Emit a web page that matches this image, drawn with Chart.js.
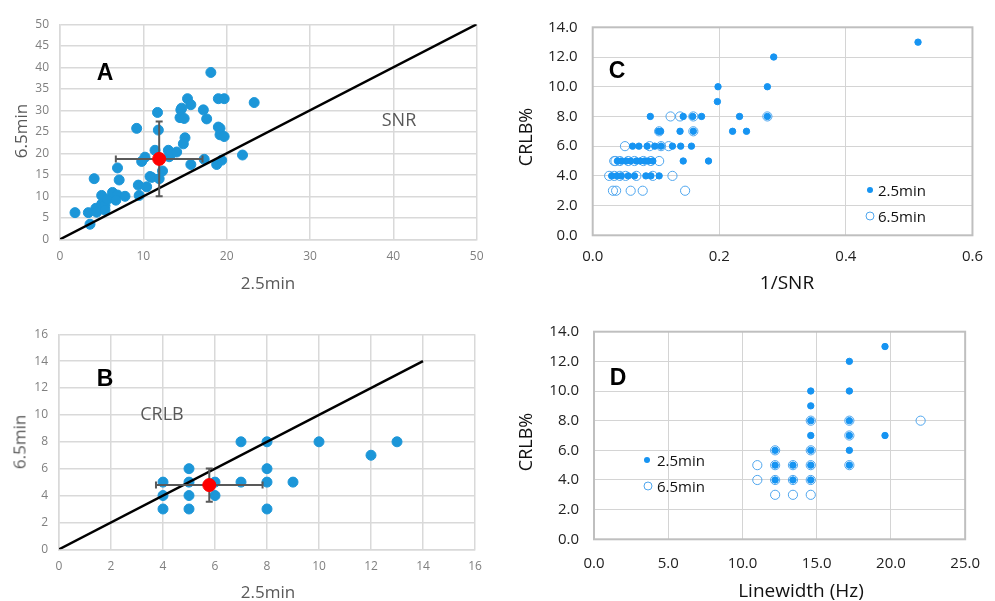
<!DOCTYPE html>
<html>
<head>
<meta charset="utf-8">
<script src="https://cdn.jsdelivr.net/npm/chart.js@4.4.1/dist/chart.umd.min.js"></script>
<style>
  body { margin: 0; background: #fff; width: 995px; height: 601px; position: relative; overflow: hidden; font-family: "Open Sans", sans-serif; }
  canvas { position: absolute; }
  .lbl { position: absolute; transform: translate(-50%, -50%); line-height: 1; white-space: nowrap; }
  .rot { transform: translate(-50%, -50%) rotate(-90deg); }
  .panel { font-family: "Liberation Sans", Arial, sans-serif; font-weight: bold; font-size: 23px; color: #000; }
  .gray { color: #595959; font-size: 17px; }
  .dark { color: #111; }
  .leg { position: absolute; font-size: 15px; color: #111; line-height: 1; transform: translateY(-50%); white-space: nowrap; }
  .dot { position: absolute; border-radius: 50%; transform: translate(-50%, -50%); box-sizing: border-box; }
</style>
</head>
<body>
<canvas id="chartA" width="497" height="300" style="left:0;top:0"></canvas>
<canvas id="chartB" width="497" height="301" style="left:0;top:300px"></canvas>
<canvas id="chartC" width="475" height="300" style="left:520px;top:0"></canvas>
<canvas id="chartD" width="475" height="301" style="left:520px;top:300px"></canvas>

<div class="lbl panel" style="left:105px;top:72px">A</div>
<div class="lbl gray" style="left:399px;top:119px;font-size:18px">SNR</div>
<div class="lbl gray" style="left:268px;top:282px">2.5min</div>
<div class="lbl gray rot" style="left:20px;top:131px">6.5min</div>

<div class="lbl panel" style="left:105px;top:378px">B</div>
<div class="lbl gray" style="left:162px;top:413px;font-size:18px">CRLB</div>
<div class="lbl gray" style="left:268px;top:591px">2.5min</div>
<div class="lbl gray rot" style="left:19px;top:442px">6.5min</div>

<div class="lbl panel" style="left:617px;top:70px">C</div>
<div class="lbl dark rot" style="left:525px;top:137px;font-size:18px">CRLB%</div>
<div class="lbl dark" style="left:787px;top:282px;font-size:19px">1/SNR</div>
<div class="dot" style="left:870px;top:190px;width:6px;height:6px;background:#1694F2"></div>
<div class="leg" style="left:878px;top:190px">2.5min</div>
<div class="dot" style="left:870px;top:216px;width:9px;height:9px;border:1px solid #4FA6EE"></div>
<div class="leg" style="left:878px;top:216px">6.5min</div>

<div class="lbl panel" style="left:618px;top:377px">D</div>
<div class="lbl dark rot" style="left:525px;top:442px;font-size:18px">CRLB%</div>
<div class="lbl dark" style="left:801px;top:590px;font-size:19px">Linewidth (Hz)</div>
<div class="dot" style="left:647px;top:460px;width:6px;height:6px;background:#1694F2"></div>
<div class="leg" style="left:657px;top:460px">2.5min</div>
<div class="dot" style="left:648px;top:486px;width:9px;height:9px;border:1px solid #4FA6EE"></div>
<div class="leg" style="left:657px;top:486px">6.5min</div>

<script>
// ---- Panel A: SNR, 2.5min vs 6.5min ----
const snrShort = [1.8, 3.4, 4.1, 4.3, 4.4, 3.6, 5.0, 5.0, 5.4, 5.4, 5.7, 6.3, 6.9, 6.7, 6.9, 7.1, 7.8, 9.2, 9.4, 9.5,
  9.8, 10.2, 10.4, 10.8, 11.0, 11.4, 11.7, 11.8, 11.9, 12.3, 13.0, 13.1, 13.3, 14.0, 14.5, 14.6, 14.4, 14.9, 15.0, 14.8,
  15.3, 15.7, 15.7, 17.2, 17.6, 17.3, 18.1, 18.8, 19.0, 19.7, 19.0, 19.2, 19.2, 19.7, 19.4, 21.9, 23.3];
const snrLong = [6.2, 6.2, 14.1, 7.2, 6.3, 3.5, 10.2, 8.2, 7.8, 6.8, 9.3, 10.9, 10.3, 9.1, 16.6, 13.8, 10.0, 25.8, 12.6, 10.2,
  18.1, 19.1, 12.2, 14.6, 14.4, 20.7, 29.5, 25.4, 14.1, 15.9, 20.7, 19.2, 19.8, 20.3, 30.1, 30.5, 28.3, 28.1, 23.6, 22.2,
  32.7, 31.3, 17.4, 30.1, 28.0, 18.6, 38.8, 17.4, 32.7, 32.7, 26.1, 25.8, 24.3, 23.9, 18.4, 19.6, 31.8];
const snrMean = [11.9, 18.7];
const snrSd = [5.2, 8.7];
const snrIdentity = [0, 50];

// ---- Panel B: CRLB, 2.5min vs 6.5min ----
const crlbShort = [4, 4, 4, 5, 5, 5, 5, 6, 6, 7, 7, 8, 8, 8, 8, 9, 10, 12, 13];
const crlbLong = [5, 4, 3, 6, 5, 4, 3, 5, 4, 8, 5, 8, 6, 5, 3, 5, 8, 7, 8];
const crlbMean = [5.78, 4.78];
const crlbSd = [2.05, 1.24];
const crlbIdentity = [0, 14];

// ---- Panel C: CRLB% vs 1/SNR ----
const invSnrShort = [0.198, 0.197, 0.091, 0.143, 0.158, 0.172, 0.232, 0.276, 0.286, 0.276, 0.514,
  0.104, 0.107, 0.138, 0.159, 0.221, 0.243,
  0.063, 0.073, 0.086, 0.098, 0.108, 0.126, 0.139, 0.156,
  0.039, 0.045, 0.053, 0.060, 0.069, 0.075, 0.082, 0.088, 0.095, 0.143, 0.183,
  0.030, 0.038, 0.045, 0.056, 0.066, 0.084, 0.092, 0.105];
const crlbPctShortC = [10, 9, 8, 8, 8, 8, 8, 8, 12, 10, 13,
  7, 7, 7, 7, 7, 7,
  6, 6, 6, 6, 6, 6, 6, 6,
  5, 5, 5, 5, 5, 5, 5, 5, 5, 5, 5,
  4, 4, 4, 4, 4, 4, 4, 4];
const invSnrLong = [0.123, 0.138, 0.159, 0.276, 0.159, 0.105,
  0.051, 0.090, 0.108, 0.120,
  0.034, 0.036, 0.043, 0.056, 0.066, 0.080, 0.092, 0.105,
  0.026, 0.034, 0.043, 0.052, 0.069, 0.095, 0.126,
  0.032, 0.037, 0.060, 0.079, 0.146];
const crlbPctLongC = [8, 8, 8, 8, 7, 7,
  6, 6, 6, 6,
  5, 5, 5, 5, 5, 5, 5, 5,
  4, 4, 4, 4, 4, 4, 4,
  3, 3, 3, 3, 3];

// ---- Panel D: CRLB% vs linewidth ----
const lwShort = [19.6, 19.6, 17.2, 17.2, 17.2, 17.2, 17.2, 17.2, 14.6, 14.6, 14.6, 14.6, 14.6, 14.6, 14.6,
  13.4, 13.4, 12.2, 12.2, 12.2];
const crlbPctShortD = [13, 7, 12, 10, 8, 7, 6, 5, 10, 9, 8, 7, 6, 5, 4, 5, 4, 6, 5, 4];
const lwLong = [22.0, 17.2, 17.2, 17.2, 14.6, 14.6, 14.6, 14.6, 14.6, 13.4, 13.4, 13.4, 12.2, 12.2, 12.2, 12.2, 11.0, 11.0];
const crlbPctLongD = [8, 8, 7, 5, 8, 6, 5, 4, 3, 5, 4, 3, 6, 5, 4, 3, 5, 4];

const pts = (xs, ys) => xs.map((x, i) => ({x: x, y: ys[i]}));

const frame = {
    id: 'frame',
    afterDraw(chart, args, opts) {
        if (!opts.color) return;
        const a = chart.chartArea, ctx = chart.ctx;
        ctx.save();
        ctx.strokeStyle = opts.color;
        ctx.lineWidth = opts.width;
        ctx.strokeRect(a.left, a.top, a.right - a.left, a.bottom - a.top);
        ctx.restore();
    }
};

// error bar datasets for the mean point (bars drawn as short lines, caps as line markers)
function errorBars(mean, sd) {
    const style = {type: 'line', borderColor: '#595959', borderWidth: 2, pointStyle: 'line',
        pointRadius: 3.5, pointBorderColor: '#595959', pointBorderWidth: 2, fill: false};
    return [
        Object.assign({}, style, {data: [{x: mean[0] - sd[0], y: mean[1]}, {x: mean[0] + sd[0], y: mean[1]}], pointRotation: 90}),
        Object.assign({}, style, {data: [{x: mean[0], y: mean[1] - sd[1]}, {x: mean[0], y: mean[1] + sd[1]}], pointRotation: 0})
    ];
}

// fixed plot box: left/top/right/bottom are the plot-area edges inside the canvas
function box(w, h, left, top, right, bottom) {
    return {
        layout: {padding: {top: top, right: w - right, left: 0, bottom: 0}},
        xFit: s => { s.height = h - bottom; },
        yFit: s => { s.width = left; }
    };
}

function excelChart(id, geom, datasets, xr, yr) {
    const tickFont = {family: 'Open Sans', size: 12};
    new Chart(document.getElementById(id), {
        type: 'scatter',
        data: {datasets: datasets},
        options: {
            responsive: false, animation: false, events: [],
            layout: geom.layout,
            plugins: {legend: {display: false}, tooltip: {enabled: false}},
            scales: {
                x: {type: 'linear', min: xr[0], max: xr[1], afterFit: geom.xFit,
                    grid: {color: '#d9d9d9', lineWidth: 1.5, drawTicks: false},
                    border: {color: '#d9d9d9', width: 1.5},
                    ticks: {stepSize: xr[2], color: '#7f7f7f', font: tickFont, padding: 10, maxRotation: 0}},
                y: {type: 'linear', min: yr[0], max: yr[1], afterFit: geom.yFit,
                    grid: {color: '#d9d9d9', lineWidth: 1.5, drawTicks: false},
                    border: {color: '#d9d9d9', width: 1.5},
                    ticks: {stepSize: yr[2], color: '#7f7f7f', font: tickFont, padding: 11}}
            }
        }
    });
}

function crlbChart(id, geom, datasets, xr) {
    const tickFont = {family: 'Open Sans', size: 15};
    new Chart(document.getElementById(id), {
        type: 'scatter',
        data: {datasets: datasets},
        options: {
            responsive: false, animation: false, events: [],
            layout: geom.layout,
            plugins: {legend: {display: false}, tooltip: {enabled: false}, frame: {color: '#bfbfbf', width: 2}},
            scales: {
                x: {type: 'linear', min: xr[0], max: xr[1], afterFit: geom.xFit,
                    grid: {color: '#d4d4d4', lineWidth: 1, drawTicks: false},
                    border: {display: false},
                    ticks: {stepSize: xr[2], color: '#222', font: tickFont, padding: xr[3], maxRotation: 0,
                        callback: v => v.toFixed(1)}},
                y: {type: 'linear', min: 0, max: 14, afterFit: geom.yFit,
                    grid: {color: '#d4d4d4', lineWidth: 1, drawTicks: false},
                    border: {display: false},
                    ticks: {stepSize: 2, color: '#222', font: tickFont, padding: 15,
                        callback: v => v.toFixed(1)}}
            }
        },
        plugins: [frame]
    });
}

const blueA = '#1C96D8';
const fillC = '#1694F2';
const ringC = '#4FA6EE';

function meanSet(mean) {
    return {data: [{x: mean[0], y: mean[1]}], backgroundColor: '#ff0000', borderColor: '#ff0000', pointRadius: 6.5};
}
function identitySet(range) {
    return {type: 'line', data: [{x: range[0], y: range[0]}, {x: range[1], y: range[1]}],
        borderColor: '#000', borderWidth: 2.5, pointRadius: 0, fill: false};
}

excelChart('chartA', box(497, 300, 60, 24.3, 476.7, 239.3), [
    meanSet(snrMean),
    ...errorBars(snrMean, snrSd),
    identitySet(snrIdentity),
    {data: pts(snrShort, snrLong), backgroundColor: blueA, borderColor: blueA, pointRadius: 5}
], [0, 50, 10], [0, 50, 5]);

excelChart('chartB', box(497, 301, 59, 34.3, 475, 249.3), [
    meanSet(crlbMean),
    ...errorBars(crlbMean, crlbSd),
    identitySet(crlbIdentity),
    {data: pts(crlbShort, crlbLong), backgroundColor: blueA, borderColor: blueA, pointRadius: 5}
], [0, 16, 2], [0, 16, 2]);

crlbChart('chartC', box(475, 300, 72.7, 27.3, 455.7, 235.3), [
    {data: pts(invSnrShort, crlbPctShortC), backgroundColor: fillC, borderColor: fillC, pointRadius: 3.2},
    {data: pts(invSnrLong, crlbPctLongC), backgroundColor: 'rgba(0,0,0,0)', borderColor: ringC, borderWidth: 1, pointRadius: 4.6}
], [0, 0.6, 0.2, 12]);

crlbChart('chartD', box(475, 301, 74, 31.7, 457.7, 239.3), [
    {data: pts(lwShort, crlbPctShortD), backgroundColor: fillC, borderColor: fillC, pointRadius: 3.2},
    {data: pts(lwLong, crlbPctLongD), backgroundColor: 'rgba(0,0,0,0)', borderColor: ringC, borderWidth: 1, pointRadius: 4.6}
], [0, 25, 5, 15]);
</script>
</body>
</html>
